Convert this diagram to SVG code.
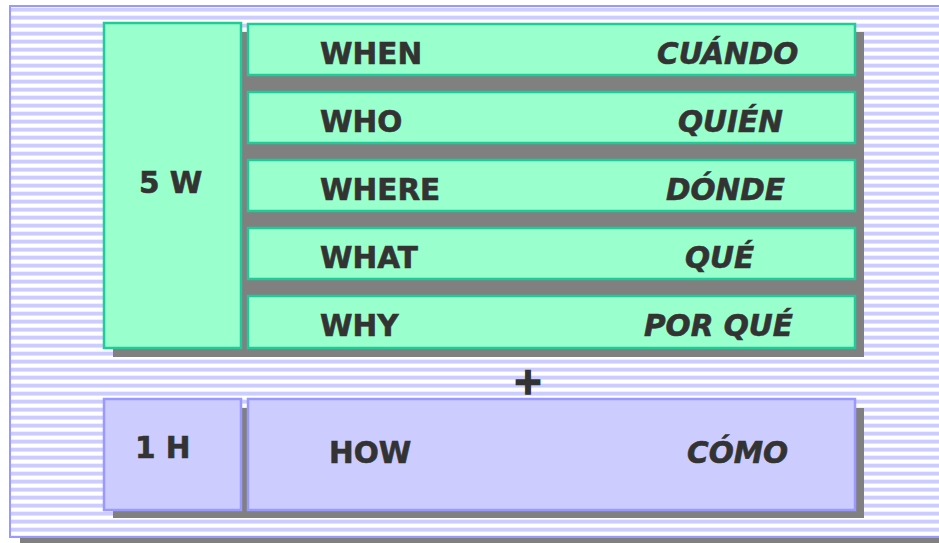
<svg xmlns="http://www.w3.org/2000/svg" width="939" height="543" viewBox="0 0 939 543">
<style>
.g{fill:#99ffcc;stroke:#1fcc99;stroke-width:2.5}
.l{fill:#ccccff;stroke:#9999ff;stroke-width:2.5}
.sh{fill:#808080}
.t{font-family:"DejaVu Sans",Verdana,sans-serif;font-weight:bold;font-size:29.5px;fill:#333333;stroke:#333333;stroke-width:0.6}
.i{font-style:italic}
</style>
<defs>
<pattern id="stripes" x="0" y="8" width="8" height="8" patternUnits="userSpaceOnUse">
<rect width="8" height="8" fill="#ffffff"/>
<rect y="0" width="8" height="3" fill="#ccccff"/>
<rect y="3" width="8" height="1" fill="#e0e0ff"/>
<rect y="7" width="8" height="1" fill="#eeeeff"/>
</pattern>
</defs>
<g id="background">
<rect x="20" y="16" width="940" height="530" class="sh"/>
<rect x="10" y="6" width="940" height="531" fill="url(#stripes)" stroke="#9999ff" stroke-width="2"/>
</g>
<g id="shadows">
<rect x="113" y="32" width="751" height="325" class="sh"/>
<rect x="113" y="408" width="751" height="110" class="sh"/>
</g>
<g id="node-5w">
<rect x="104" y="23" width="137" height="325" class="g"/>
<text x="139" y="193" class="t">5 W</text>
</g>
<g id="node-when">
<rect x="248" y="24" width="607" height="51" class="g"/>
<text x="320" y="64" class="t">WHEN</text>
<text x="657" y="64" class="t i">CUÁNDO</text>
</g>
<g id="node-who">
<rect x="248" y="92" width="607" height="51" class="g"/>
<text x="320" y="132" class="t">WHO</text>
<text x="678" y="132" class="t i">QUIÉN</text>
</g>
<g id="node-where">
<rect x="248" y="160" width="607" height="51" class="g"/>
<text x="320" y="200" class="t">WHERE</text>
<text x="666" y="200" class="t i">DÓNDE</text>
</g>
<g id="node-what">
<rect x="248" y="228" width="607" height="51" class="g"/>
<text x="320" y="268" class="t">WHAT</text>
<text x="685" y="268" class="t i">QUÉ</text>
</g>
<g id="node-why">
<rect x="248" y="296" width="607" height="52" class="g"/>
<text x="320" y="336" class="t">WHY</text>
<text x="644" y="336" class="t i">POR QUÉ</text>
</g>
<g id="plus">
<text x="528" y="394" class="t" text-anchor="middle" style="font-size:37px;stroke-width:1.6">+</text>
</g>
<g id="node-1h">
<rect x="104" y="399" width="137" height="111" class="l"/>
<text x="135" y="458" class="t">1 H</text>
</g>
<g id="node-how">
<rect x="248" y="399" width="607" height="111" class="l"/>
<text x="329" y="463" class="t">HOW</text>
<text x="687" y="463" class="t i">CÓMO</text>
</g>
<g id="connectors"></g>
</svg>
